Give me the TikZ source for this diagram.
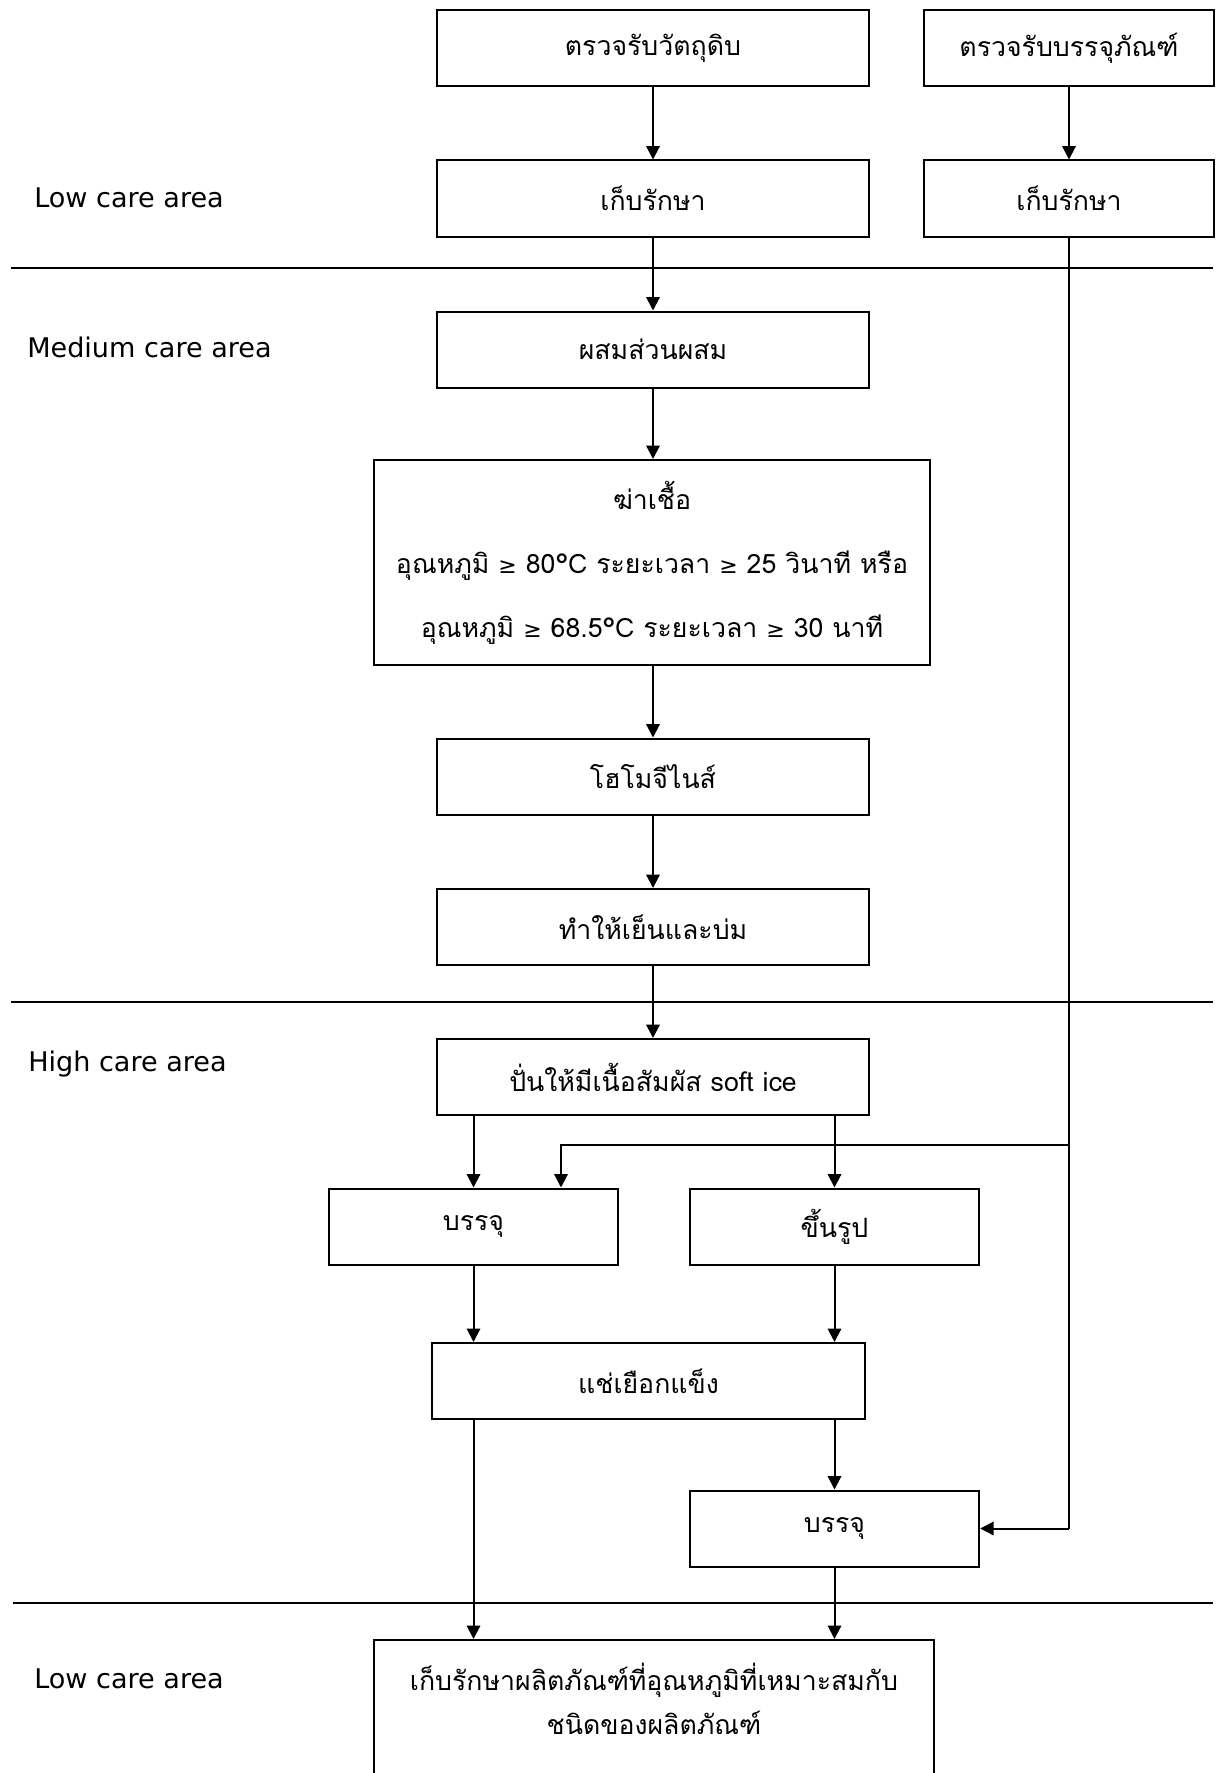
\documentclass[tikz,border=0pt]{standalone}
\usepackage{fontspec}
\newfontfamily\thaifont[Script=Thai]{Loma}
\newfontfamily\latinfont{DejaVu Sans}
\newcommand{\gesym}{{\latinfont\fontsize{16.5}{18}\selectfont ≥}}
\usetikzlibrary{arrows.meta,calc}
\begin{document}
\begin{tikzpicture}[x=0.75pt,y=-0.75pt,
  box/.style={draw, line width=1.5pt, rectangle, inner sep=0pt, minimum height=57pt,
    font=\thaifont\fontsize{20}{24}\selectfont, align=center},
  wbox/.style={box, minimum width=324pt},
  nbox/.style={box, minimum width=217pt},
  arr/.style={line width=1.5pt, -{Triangle[length=10pt,width=10pt]}},
  feed/.style={line width=0.9pt},
  sepline/.style={line width=1.5pt},
  area/.style={anchor=west, inner sep=0pt, font=\latinfont\fontsize{20.3}{24}\selectfont}]
\useasboundingbox (0,0) rectangle (1216,1773);
\clip (0,0) rectangle (1216,1773);
% separators
\draw[sepline] (11,268) -- (1213,268);
\draw[sepline] (11,1002) -- (1213,1002);
\draw[sepline] (13,1603) -- (1213,1603);
% area labels
\node[area] (l1) at (34,198) {Low care area};
\node[area] (l2) at (27,347) {Medium care area};
\node[area] (l3) at (28,1064) {High care area};
\node[area] (l4) at (34,1679) {Low care area};
% boxes
\node[wbox] (A) at (653,48.5) {ตรวจรับวัตถุดิบ};
\node[nbox] (B) at (1069,48.5) {ตรวจรับบรรจุภัณฑ์};
\node[wbox] (A2) at (653,198.5) {เก็บรักษา};
\node[nbox] (B2) at (1069,198.5) {เก็บรักษา};
\node[wbox] (C) at (653,349.5) {ผสมส่วนผสม};
\node[box, minimum width=417pt, minimum height=153.75pt, font=\thaifont\fontsize{20}{48}\selectfont] (D) at (652,562.5)
  {ฆ่าเชื้อ\\อุณหภูมิ \gesym{} 80°C ระยะเวลา \gesym{} 25 วินาที หรือ\\อุณหภูมิ \gesym{} 68.5°C ระยะเวลา \gesym{} 30 นาที};
\node[wbox] (E) at (653,776.5) {โฮโมจีไนส์};
\node[wbox] (F) at (653,927) {ทำให้เย็นและบ่ม};
\node[wbox] (G) at (653,1077) {ปั่นให้มีเนื้อสัมผัส soft ice};
\node[nbox] (H) at (473.5,1226.5) {บรรจุ};
\node[nbox] (I) at (834.5,1226.5) {ขึ้นรูป};
\node[box, minimum width=324.75pt] (J) at (648.5,1381) {แช่เยือกแข็ง};
\node[nbox] (K) at (834.5,1528.5) {บรรจุ};
\node[box, minimum width=420pt, minimum height=106.5pt, font=\thaifont\fontsize{20}{33}\selectfont] (L) at (654,1711)
  {เก็บรักษาผลิตภัณฑ์ที่อุณหภูมิที่เหมาะสมกับ\\ชนิดของผลิตภัณฑ์\\[-15pt]\mbox{}};
% coordinates for the packaging feed
\coordinate (br) at (1069,1145);
\coordinate (hb) at (561,1145);
% connectors
\draw[arr] (A) -- (A2);
\draw[arr] (B) -- (B2);
\draw[arr] (A2) -- (C);
\draw[arr] (C.south) -- (C.south |- D.north);
\draw[arr] (D.south -| E.north) -- (E.north);
\draw[arr] (E) -- (F);
\draw[arr] (F) -- (G);
\draw[arr] (G.south -| H.north) -- (H.north);
\draw[arr] (G.south -| I.north) -- (I.north);
\draw[arr] (H.south) -- (H.south |- J.north);
\draw[arr] (I.south) -- (I.south |- J.north);
\draw[arr] (J.south -| H.south) -- (L.north -| H.south);
\draw[arr] (J.south -| K.north) -- (K.north);
\draw[arr] (K.south) -- (K.south |- L.north);
\draw[feed] (B2.south) -- (B2.south |- K.east);
\draw[arr] (B2.south |- K.east) -- (K.east);
\draw[arr] (br) -- (hb) -- (hb |- H.north);
\end{tikzpicture}
\end{document}
